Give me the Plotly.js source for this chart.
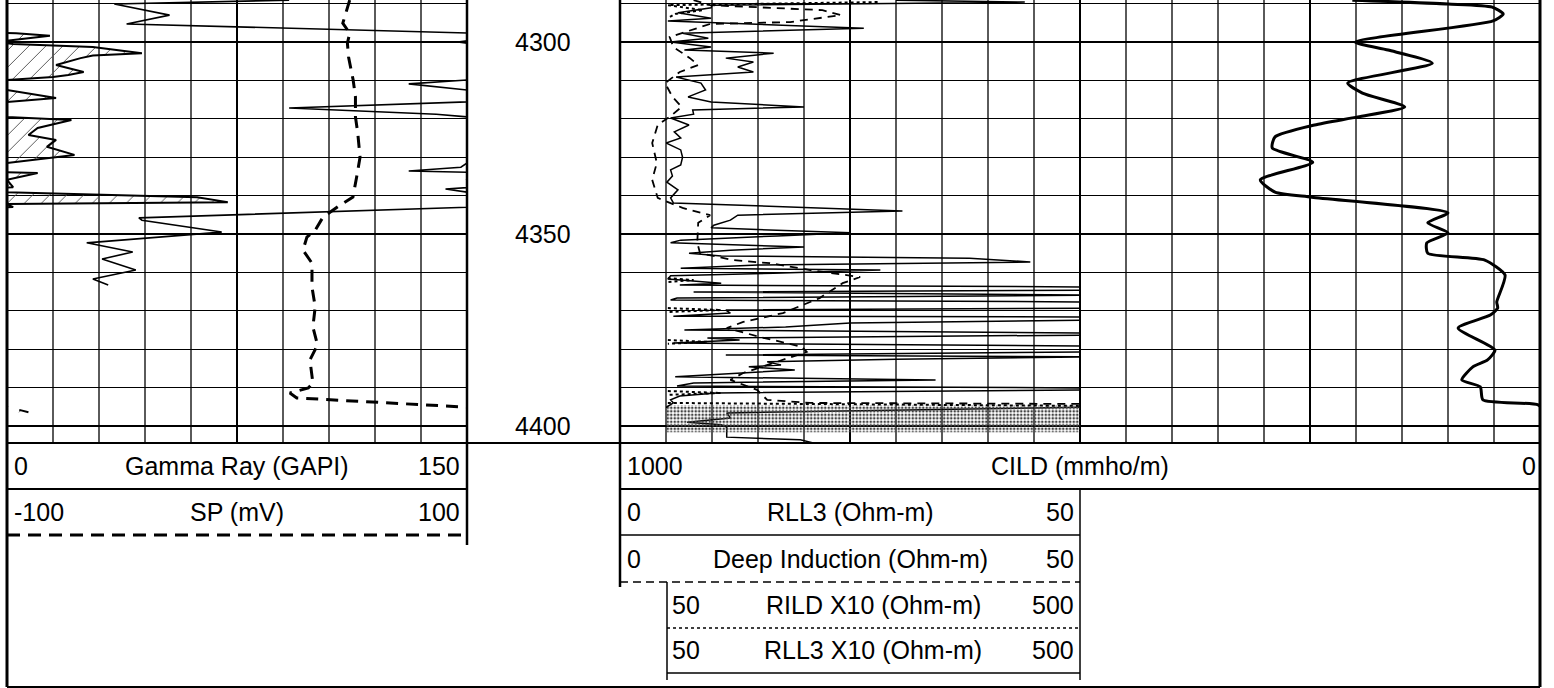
<!DOCTYPE html>
<html>
<head>
<meta charset="utf-8">
<script src="https://cdn.plot.ly/plotly-3.0.1.min.js"></script>
<style>html,body{margin:0;padding:0;background:#fff;overflow:hidden}</style>
</head>
<body>
<div id="chart" style="width:1554px;height:688px"></div>
<script>
// ---------------- DATA (depth in ft, values in curve units) ----------------
const depthTop = 4289.06, depthBottom = 4404.43;
const depthLabels = [4300, 4350, 4400];

// Gamma Ray (GAPI), 0-150 scale with wrap-around backup (GR-150)
const grDepth = [4289.1, 4290.1, 4293.0, 4295.3, 4297.7, 4298.4, 4299.5, 4300.0, 4300.5, 4301.3, 4302.9, 4303.5, 4304.2, 4306.0, 4307.8, 4308.6, 4309.1, 4309.9, 4310.9, 4312.5, 4313.5, 4314.6, 4315.6, 4317.2, 4318.8, 4319.5, 4320.3, 4322.4, 4324.2, 4325.5, 4327.3, 4329.4, 4331.5, 4332.6, 4333.6, 4334.1, 4335.9, 4337.8, 4338.3, 4339.1, 4340.4, 4341.7, 4342.2, 4343.0, 4345.8, 4346.4, 4349.5, 4352.3, 4354.7, 4356.5, 4359.4, 4361.7, 4363.3, 4364.0, 4395.8, 4396.4];
const grValue = [92, 35, 53, 39, 153, 164, 152, 147, 152, 178, 194, 178, 174, 166, 175, 170, 165, 150, 131, 150, 158, 166, 150, 92, 140, 150, 171, 160, 157, 166, 163, 172, 150, 148, 131, 160, 150, 152, 143, 150, 212, 222, 150, 152, 43, 44, 70, 26, 41, 31, 42, 28, 33, null, 154, 157];

// SP (mV), -100..100
const spDepth = [4289.1, 4295.1, 4297.7, 4300.3, 4303.9, 4309.9, 4314.3, 4319.5, 4323.7, 4330.0, 4335.2, 4340.4, 4342.4, 4345.6, 4349.0, 4350.8, 4354.2, 4357.6, 4363.8, 4369.0, 4374.2, 4378.9, 4382.8, 4388.8, 4390.1, 4391.4, 4392.7, 4395.1];
const spValue = [49, 46, 49, 48, 48.5, 50.5, 51.5, 51.5, 52.5, 53.5, 52, 50.4, 45, 37.4, 34, 30.4, 28.7, 32.6, 32.6, 34, 33, 35, 31.7, 33, 31, 23, 26, 100];

// CILD (mmho/m), 1000..0
const cildDepth = [4289.1, 4290.1, 4290.9, 4292.7, 4294.5, 4300.0, 4302.1, 4305.5, 4310.7, 4313.3, 4316.9, 4319.5, 4321.6, 4324.7, 4327.6, 4331.3, 4335.9, 4339.1, 4340.4, 4344.5, 4347.1, 4349.7, 4352.3, 4355.0, 4356.8, 4360.7, 4367.7, 4369.3, 4371.1, 4374.5, 4380.2, 4382.8, 4384.6, 4388.0, 4389.8, 4393.2, 4394.5, 4396.4];
const cildValue = [204, 100, 52, 40, 51, 201, 165, 117, 209, 193, 147, 198, 245, 288, 291, 247, 304, 288, 248, 100, 122, 100, 123, 122, 60, 38, 47, 46, 54, 89, 49, 57, 73, 85, 65, 62, 2, -5];

// RLL3 (Ohm-m): 0-50 main scale, 50-500 backup (X10) scale
const rll3Depth = [4289.1, 4289.6, 4290.4, 4291.1, 4292.4, 4293.8, 4294.5, 4296.4, 4297.7, 4299.0, 4300.0, 4301.3, 4302.1, 4302.9, 4304.2, 4305.2, 4306.5, 4307.8, 4309.1, 4310.7, 4312.5, 4314.3, 4315.6, 4316.9, 4317.7, 4318.8, 4319.8, 4321.6, 4323.4, 4325.0, 4326.3, 4328.1, 4330.0, 4332.0, 4333.3, 4334.9, 4336.5, 4338.5, 4340.6, 4341.9, 4344.0, 4345.1, 4346.4, 4347.7, 4348.4, 4349.7, 4350.5, 4351.6, 4352.3, 4353.4, 4354.2, 4355.0, 4355.7, 4356.3, 4357.3, 4358.1, 4358.9, 4359.4, 4360.2, 4360.9, 4361.7, 4362.8, 4363.3, 4363.8, 4364.6, 4365.1, 4365.9, 4366.7, 4367.2, 4367.7, 4368.5, 4369.3, 4369.8, 4370.6, 4371.4, 4371.6, 4372.4, 4373.2, 4374.2, 4375.0, 4375.8, 4376.3, 4377.1, 4377.6, 4378.4, 4379.2, 4379.7, 4380.7, 4381.5, 4382.0, 4382.6, 4383.3, 4384.1, 4384.6, 4385.4, 4386.2, 4387.2, 4388.0, 4388.8, 4389.6, 4390.1, 4390.6, 4391.4, 4392.2, 4393.2, 4394.0, 4395.1, 4396.6, 4397.9, 4399.0, 4399.7, 4400.3, 4402.9, 4403.6, 4404.4];
const rll3Value = [300, 440, 100, 99, 63, 99, 52, 265, 68, 96, 55, 99, 70, 167, 115, 145, 128, 145, 61, 88, 93, 74, 99, 200, 79, 80, 55, 75, 59, 66, 50, 66, 68, 66, 55, 57, 51, 63, 55, 58, 307, 128, 120, 102, 99, 251, 171, 66, 55, 200, 120, 75, 110, 380, 446, 150, 66, 283, 167, 55, 52, 110, 65, 520, 520, 80, 520, 62, 55, 520, 520, 520, 115, 120, 58, 520, 520, 250, 180, 70, 520, 520, 95, 130, 58, 520, 520, 520, 115, 520, 300, 160, 175, 140, 190, 130, 60, 343, 80, 62, 520, 520, 105, 65, 55, 58, 50.5, 11.6, 12, 7.3, 11, 11.6, 11.6, 19.6, 21];

// Deep Induction (Ohm-m), 0-50
const ildDepth = [4289.1, 4290.4, 4291.7, 4293.0, 4294.8, 4295.3, 4298.7, 4301.3, 4304.2, 4306.0, 4307.8, 4310.7, 4314.3, 4316.9, 4319.5, 4321.6, 4326.3, 4331.5, 4335.9, 4340.6, 4343.2, 4345.1, 4347.1, 4352.3, 4355.0, 4356.8, 4357.6, 4359.4, 4361.2, 4362.8, 4366.7, 4370.6, 4372.9, 4374.5, 4376.8, 4379.4, 4380.7, 4383.3, 4386.2, 4388.0, 4389.3, 4390.6, 4393.2, 4394.0, 4394.3, 4404.4];
const ildValue = [8, 9.8, 22, 24, 18.5, 9.8, 5.4, 5.8, 7.6, 8.5, 6.5, 4.9, 5.7, 6.7, 5.4, 4.1, 3.5, 4.0, 3.5, 4.1, 6.8, 9.8, 8.5, 8.4, 8.7, 12.3, 16.3, 20.7, 26.1, 24.2, 21.7, 17.7, 13.4, 11.6, 15.2, 19.8, 20.3, 17.1, 13.4, 12, 13.4, 14.9, 16, 20.7, 55, 55];

// RILD X10 (Ohm-m), 50-500
const rildX10Depth = [4289.6, 4290.4, 4291.7, 4292.7, 4293.8, 4294.0, 4361.5, 4362.0, 4362.5, 4363.0, 4369.3, 4369.8, 4370.3, 4371.0, 4377.6, 4378.1, 4378.6, 4379.0, 4390.9, 4391.4, 4391.9, 4392.5, 4394.0, 4394.8];
const rildX10Value = [280, 52, 90, 60, 52, null, 52, 80, 52, null, 52, 110, 52, null, 52, 95, 52, null, 52, 110, 52, null, 52, 520];

// shaded interval in the resistivity track (top, bottom depth)
const shadeInterval = [4394.6, 4401.6];

// header captions: [left value, title, right value]
const grHeader = ['0', 'Gamma Ray (GAPI)', '150'];
const spHeader = ['-100', 'SP (mV)', '100'];
const cildHeader = ['1000', 'CILD (mmho/m)', '0'];
const rll3Header = ['0', 'RLL3 (Ohm-m)', '50'];
const ildHeader = ['0', 'Deep Induction (Ohm-m)', '50'];
const rildX10Header = ['50', 'RILD X10 (Ohm-m)', '500'];
const rll3X10Header = ['50', 'RLL3 X10 (Ohm-m)', '500'];

// ---------------- LAYOUT HELPERS ----------------
const W = 1554, H = 688;
const PX = v => v / W;
const PY = v => 1 - v / H;
const FONT = 'Liberation Sans, Arial, sans-serif';
const FS = 25;

const grBackup = grValue.map(v => v === null ? null : v - 150);

const traces = [
  { x: grBackup, y: grDepth, xaxis: 'x', yaxis: 'y', mode: 'lines', line: {color: '#000', width: 2},
    fill: 'tozerox', fillcolor: 'rgba(0,0,0,0)',
    fillpattern: {shape: '/', fgcolor: '#555', bgcolor: 'rgba(255,255,255,0)', size: 12, solidity: 0.08} },
  { x: grValue, y: grDepth, xaxis: 'x', yaxis: 'y', mode: 'lines', line: {color: '#000', width: 1.6} },
  { x: cildValue, y: cildDepth, xaxis: 'x2', yaxis: 'y', mode: 'lines', line: {color: '#000', width: 3, shape: 'spline', smoothing: 0.6} },
  { x: rll3Value, y: rll3Depth, xaxis: 'x3', yaxis: 'y2', mode: 'lines', line: {color: '#000', width: 1.5} },
  { x: ildValue, y: ildDepth, xaxis: 'x3', yaxis: 'y2', mode: 'lines', line: {color: '#000', width: 1.8, dash: '8px,6px'} },
  { x: [50, 500, 500, 50, 50], y: [shadeInterval[0], shadeInterval[0], shadeInterval[1], shadeInterval[1], shadeInterval[0]],
    xaxis: 'x4', yaxis: 'y3', mode: 'lines', line: {width: 0, color: 'rgba(0,0,0,0)'}, fill: 'toself',
    fillcolor: 'rgba(0,0,0,0)', fillpattern: {shape: '.', fgcolor: '#444', bgcolor: 'rgba(255,255,255,0)', size: 3.5, solidity: 0.45} },
  { x: rll3Value, y: rll3Depth, xaxis: 'x4', yaxis: 'y3', mode: 'lines', line: {color: '#000', width: 1.5} },
  { x: rildX10Value, y: rildX10Depth, xaxis: 'x4', yaxis: 'y3', mode: 'lines', line: {color: '#000', width: 2, dash: 'dot'} },
  { x: spValue, y: spDepth, xaxis: 'x5', yaxis: 'y4', mode: 'lines', line: {color: '#000', width: 3, dash: '12px,8px'} }
];

const yDomain = [PY(443), 1];
const baseY = {domain: yDomain, range: [depthBottom, depthTop], showticklabels: false, ticks: '', zeroline: false, showline: false};
const hidden = {showgrid: false, showticklabels: false, ticks: '', zeroline: false, showline: false};

function line(x0, y0, x1, y1, width, dash) {
  return {type: 'line', xref: 'paper', yref: 'paper', x0: PX(x0), x1: PX(x1), y0: PY(y0), y1: PY(y1),
          line: {color: '#000', width: width, dash: dash || 'solid'}, layer: 'above'};
}
const shapes = [
  line(7, 0, 7, 687, 3),
  line(467, 0, 467, 545, 2.5),
  line(620, 0, 620, 587, 2.5),
  line(1540, 0, 1540, 687, 3),
  line(7, 443, 1540, 443, 2),
  line(7, 489, 467, 489, 2),
  line(620, 489, 1540, 489, 2),
  line(7, 535, 467, 535, 3, '13px,8px'),
  line(620, 535, 1080, 535, 1.5),
  line(620, 582, 1080, 582, 1.5, '8px,5px'),
  line(667, 582, 667, 680, 1.5),
  line(1080, 489, 1080, 680, 1.5),
  line(667, 628, 1080, 628, 1.5, 'dot'),
  line(667, 673, 1080, 673, 1.5),
  line(7, 687, 1540, 687, 2)
];

function txt(text, x, y, anchor) {
  return {text: text, xref: 'paper', yref: 'paper', x: PX(x), y: PY(y), xanchor: anchor, yanchor: 'middle',
          showarrow: false, font: {family: FONT, size: FS, color: '#000'}};
}
function headerRow(h, xl, xc, xr, y) {
  return [txt(h[0], xl, y, 'left'), txt(h[1], xc, y, 'center'), txt(h[2], xr, y, 'right')];
}
const annotations = [].concat(
  headerRow(grHeader, 12, 237, 462, 466),
  headerRow(spHeader, 12, 237, 462, 512),
  headerRow(cildHeader, 625, 1080, 1538, 466),
  headerRow(rll3Header, 625, 850, 1076, 512),
  headerRow(ildHeader, 625, 850, 1076, 559),
  headerRow(rildX10Header, 670, 873, 1076, 605),
  headerRow(rll3X10Header, 670, 873, 1076, 650),
  depthLabels.map(d => ({text: String(d), xref: 'paper', yref: 'y', x: PX(543), y: d, xanchor: 'center', yanchor: 'middle',
    showarrow: false, font: {family: FONT, size: FS, color: '#000'}}))
);

const minorX = {showgrid: true, gridcolor: '#5a5a5a', gridwidth: 1.2, ticks: ''};
const layout = {
  width: W, height: H, margin: {l: 0, r: 0, t: 0, b: 0},
  paper_bgcolor: '#fff', plot_bgcolor: 'rgba(0,0,0,0)', showlegend: false,
  font: {family: FONT, size: FS, color: '#000'},
  xaxis: {domain: [PX(7), PX(467)], range: [0, 150], anchor: 'y', tick0: 0, dtick: 75,
          showgrid: true, gridcolor: '#000', gridwidth: 2,
          minor: Object.assign({tick0: 0, dtick: 15}, minorX),
          showticklabels: false, ticks: '', zeroline: false, showline: false},
  yaxis: Object.assign({}, baseY, {anchor: 'x', tick0: 0, dtick: 50, showgrid: true, gridcolor: '#000', gridwidth: 2,
          minor: {tick0: 0, dtick: 10, showgrid: true, gridcolor: '#000', gridwidth: 1, ticks: ''}}),
  xaxis2: {domain: [PX(620), PX(1540)], range: [1000, 0], anchor: 'y', tick0: 0, dtick: 250,
          showgrid: true, gridcolor: '#000', gridwidth: 2,
          minor: Object.assign({tick0: 0, dtick: 50}, minorX),
          showticklabels: false, ticks: '', zeroline: false, showline: false},
  xaxis3: Object.assign({}, hidden, {domain: [PX(620), PX(1080)], range: [0, 50], anchor: 'y2'}),
  yaxis2: Object.assign({}, baseY, hidden, {anchor: 'x3'}),
  xaxis4: Object.assign({}, hidden, {domain: [PX(666), PX(1080)], range: [50, 500], anchor: 'y3'}),
  yaxis3: Object.assign({}, baseY, hidden, {anchor: 'x4'}),
  xaxis5: Object.assign({}, hidden, {domain: [PX(7), PX(467)], range: [-100, 100], anchor: 'y4'}),
  yaxis4: Object.assign({}, baseY, hidden, {anchor: 'x5'}),
  shapes: shapes,
  annotations: annotations
};

Plotly.newPlot('chart', traces, layout, {staticPlot: true, displayModeBar: false});
</script>
</body>
</html>
